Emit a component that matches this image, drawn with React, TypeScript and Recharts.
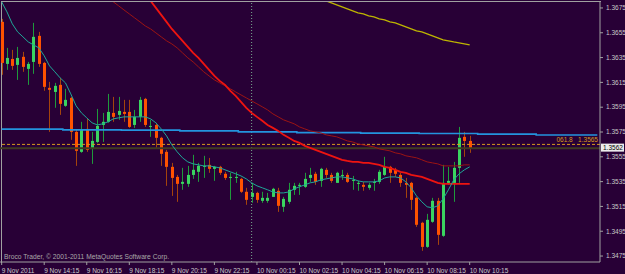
import { ComposedChart, Bar, Line, XAxis, YAxis, ReferenceLine } from "recharts";

// EURUSD M15, 9 Nov 2011 12:15 .. 10 Nov 2011 10:15
const OPEN = [
  1.36638, 1.36299, 1.36339, 1.36291, 1.36356, 1.36259, 1.36315, 1.36525, 1.36307, 1.36106,
  1.36073, 1.3613, 1.35961, 1.36025, 1.35751, 1.3559, 1.35775, 1.35614, 1.3567, 1.35807,
  1.35832, 1.35904, 1.35888, 1.35912, 1.35912, 1.35807, 1.35872, 1.36017, 1.35791, 1.35807,
  1.35703, 1.3559, 1.35469, 1.35388, 1.35332, 1.35332, 1.35404, 1.35429, 1.35469, 1.35485,
  1.35453, 1.35469, 1.35413, 1.3538, 1.3538, 1.35372, 1.35268, 1.35227, 1.35259, 1.35195,
  1.35195, 1.35227, 1.35276, 1.35147, 1.35187, 1.35284, 1.35316, 1.35308, 1.3538, 1.35413,
  1.35356, 1.35445, 1.35404, 1.3534, 1.35396, 1.35404, 1.35356, 1.35332, 1.35324, 1.353,
  1.3534, 1.35348, 1.35404, 1.35469, 1.35445, 1.35404, 1.3534, 1.3534, 1.35219, 1.35018,
  1.34824, 1.35026, 1.35195, 1.34913, 1.3534, 1.3534, 1.35461, 1.35711, 1.35678,
];
const HIGH = [
  1.36662, 1.36428, 1.36412, 1.36436, 1.36396, 1.36315, 1.3663, 1.36557, 1.36315, 1.36154,
  1.36146, 1.36186, 1.36098, 1.36033, 1.35767, 1.35832, 1.35856, 1.35751, 1.35936, 1.35904,
  1.36057, 1.36033, 1.36033, 1.36009, 1.36009, 1.35928, 1.36033, 1.36025, 1.35848, 1.35824,
  1.35711, 1.35606, 1.35501, 1.35404, 1.35461, 1.35477, 1.35566, 1.35501, 1.35558, 1.35541,
  1.35477, 1.35477, 1.35429, 1.35421, 1.35429, 1.3538, 1.353, 1.3534, 1.35268, 1.35268,
  1.35259, 1.353, 1.353, 1.35227, 1.3534, 1.3534, 1.3534, 1.35421, 1.35461, 1.35429,
  1.35461, 1.35461, 1.35421, 1.35429, 1.35445, 1.35421, 1.35396, 1.35356, 1.35348, 1.3534,
  1.35372, 1.35445, 1.3555, 1.35477, 1.35461, 1.35421, 1.3538, 1.35348, 1.35227, 1.35026,
  1.3509, 1.35219, 1.35219, 1.35485, 1.35469, 1.35509, 1.35791, 1.35751, 1.35719,
];
const LOW = [
  1.36211, 1.36251, 1.36251, 1.3617, 1.36235, 1.3613, 1.36219, 1.36275, 1.36082, 1.35751,
  1.35945, 1.35888, 1.35953, 1.35687, 1.35477, 1.35582, 1.3559, 1.35493, 1.35662, 1.3567,
  1.35824, 1.35832, 1.35848, 1.35832, 1.35783, 1.35783, 1.35832, 1.35791, 1.35711, 1.35622,
  1.35477, 1.35316, 1.35235, 1.35187, 1.35284, 1.35308, 1.35372, 1.35348, 1.3538, 1.35421,
  1.35356, 1.35404, 1.35364, 1.35203, 1.3534, 1.35259, 1.35163, 1.35179, 1.35179, 1.35179,
  1.35179, 1.35227, 1.35106, 1.35106, 1.35171, 1.35243, 1.35243, 1.353, 1.35348, 1.35324,
  1.35308, 1.3538, 1.3534, 1.3534, 1.35364, 1.3534, 1.35284, 1.35276, 1.35276, 1.35284,
  1.35276, 1.35332, 1.35396, 1.3534, 1.35388, 1.35308, 1.35219, 1.35122, 1.34985, 1.34792,
  1.34816, 1.35018, 1.3484, 1.34905, 1.35324, 1.35187, 1.3534, 1.3555, 1.35582,
];
const CLOSE = [
  1.36307, 1.36347, 1.36283, 1.36347, 1.36275, 1.36299, 1.36517, 1.36299, 1.36114, 1.3609,
  1.36122, 1.35977, 1.36009, 1.35751, 1.35598, 1.35767, 1.35606, 1.35678, 1.35799, 1.35832,
  1.35912, 1.35872, 1.3592, 1.35896, 1.35791, 1.35872, 1.36009, 1.35807, 1.35799, 1.35703,
  1.35574, 1.35469, 1.3538, 1.35332, 1.35348, 1.35404, 1.35445, 1.35477, 1.35477, 1.35453,
  1.35469, 1.35421, 1.3538, 1.35388, 1.35388, 1.35268, 1.35203, 1.35259, 1.35203, 1.35219,
  1.35219, 1.35292, 1.35155, 1.35211, 1.35284, 1.35316, 1.35324, 1.35372, 1.35404, 1.35348,
  1.35453, 1.35404, 1.35356, 1.35421, 1.35404, 1.35348, 1.35364, 1.3534, 1.35308, 1.35324,
  1.35348, 1.35429, 1.35469, 1.35421, 1.35413, 1.3534, 1.35324, 1.35203, 1.35002, 1.34824,
  1.35042, 1.35195, 1.34921, 1.3534, 1.35356, 1.35461, 1.35703, 1.35678, 1.3562,
];

// fast MA (teal), every bar
const MA_FAST = [
  1.36799, 1.36718, 1.36622, 1.36557, 1.36517, 1.36476, 1.36452, 1.36428, 1.36364, 1.36283,
  1.36235, 1.36186, 1.36146, 1.36057, 1.35961, 1.35904, 1.35864, 1.35824, 1.35807, 1.35816,
  1.35832, 1.35856, 1.35864, 1.35872, 1.35872, 1.35872, 1.35872, 1.35872, 1.35856, 1.35824,
  1.35775, 1.35719, 1.35646, 1.3559, 1.35542, 1.35509, 1.35493, 1.35485, 1.35477, 1.35477,
  1.35469, 1.35461, 1.35445, 1.35429, 1.35413, 1.35396, 1.35372, 1.3534, 1.35316, 1.353,
  1.35284, 1.35267, 1.35259, 1.35259, 1.35267, 1.35292, 1.35308, 1.35324, 1.3534, 1.35348,
  1.35364, 1.35372, 1.3538, 1.35388, 1.35388, 1.3538, 1.35372, 1.35356, 1.35348, 1.35348,
  1.35348, 1.35356, 1.3538, 1.35388, 1.35388, 1.3538, 1.35348, 1.353, 1.35235, 1.35187,
  1.35147, 1.35139, 1.35155, 1.35211, 1.35284, 1.35364, 1.35413, 1.35445, 1.35469,
];

// slow MA (bright red), from bar 26
const MA_SLOW_START = 26;
const MA_SLOW = [
  1.3692, 1.36863, 1.36807, 1.36751, 1.36694, 1.36638, 1.36581, 1.36533, 1.36485, 1.36436,
  1.36388, 1.36348, 1.36299, 1.36251, 1.36202, 1.36162, 1.3613, 1.36082, 1.36041, 1.35993,
  1.35945, 1.35904, 1.35872, 1.3584, 1.35807, 1.35783, 1.35759, 1.35727, 1.35703, 1.35678,
  1.35662, 1.35638, 1.35622, 1.35606, 1.3559, 1.35574, 1.35558, 1.35542, 1.35526, 1.35517,
  1.35509, 1.35509, 1.35501, 1.35501, 1.35493, 1.35485, 1.35469, 1.35461, 1.35445, 1.35429,
  1.35421, 1.35404, 1.35396, 1.35388, 1.35372, 1.35356, 1.3534, 1.35332, 1.35332, 1.35332,
  1.35332, 1.35332, 1.35332,
];

// mid MA (dark red), from bar 20
const MA_MID_START = 20;
const MA_MID = [
  1.36831, 1.36799, 1.36767, 1.36734, 1.36702, 1.3667, 1.36638, 1.36605, 1.36581, 1.36549,
  1.36517, 1.36485, 1.3646, 1.36428, 1.36388, 1.36348, 1.36315, 1.36275, 1.36235, 1.36202,
  1.3617, 1.36146, 1.36122, 1.36098, 1.36073, 1.36049, 1.36025, 1.36001, 1.35977, 1.35953,
  1.35928, 1.35896, 1.35872, 1.35848, 1.35832, 1.35816, 1.35791, 1.35775, 1.35759, 1.35751,
  1.35743, 1.35727, 1.35719, 1.35711, 1.35695, 1.35678, 1.3567, 1.35654, 1.35646, 1.35638,
  1.3563, 1.35614, 1.35606, 1.35598, 1.35582, 1.35574, 1.35558, 1.3555, 1.35542, 1.35526,
  1.35509, 1.35501, 1.35493, 1.35477, 1.35477, 1.35477, 1.35477, 1.35485, 1.35485,
];

// long MA (yellow), from bar 60
const MA_LONG_START = 60;
const MA_LONG = [
  1.36823, 1.36807, 1.36791, 1.36775, 1.36759, 1.36742, 1.36726, 1.3671, 1.36702, 1.36686,
  1.36678, 1.36662, 1.36654, 1.36638, 1.3663, 1.36614, 1.36597, 1.36581, 1.36565, 1.36557,
  1.36541, 1.36525, 1.36509, 1.36493, 1.36485, 1.36476, 1.36468, 1.3646, 1.36452,
];

// higher-timeframe MA (blue steps), level and first bar of each step
const HTF_LEVELS = [1.35773, 1.35767, 1.35765, 1.35759, 1.35751, 1.35745, 1.35741, 1.35738, 1.35733, 1.35726];
const HTF_FROM = [0, 12, 23, 34, 45, 56, 68, 79, 90, 101];

const TICK_IDX = [0, 8, 16, 24, 32, 40, 48, 56, 64, 72, 80, 88];
const TICK_LABELS = [
  "9 Nov 2011", "9 Nov 14:15", "9 Nov 16:15", "9 Nov 18:15", "9 Nov 20:15", "9 Nov 22:15",
  "10 Nov 00:15", "10 Nov 02:15", "10 Nov 04:15", "10 Nov 06:15", "10 Nov 08:15", "10 Nov 10:15",
];
const PRICE_TICKS = [1.3475, 1.3495, 1.3515, 1.3535, 1.3555, 1.3575, 1.3595, 1.3615, 1.3635, 1.3655, 1.3675];

const FIBO = 1.3565;
const BID = 1.3562;
const DAY_SEPARATOR = 47;
const SLOTS = 113;

const BG = "#280036";
const FONT = "'Liberation Sans', Arial, sans-serif";

const htfAt = (i: number) => {
  let v = HTF_LEVELS[0];
  HTF_FROM.forEach((f, k) => {
    if (i >= f) v = HTF_LEVELS[k];
  });
  return v;
};

const pick = (arr: number[], start: number, i: number) =>
  i >= start && i - start < arr.length ? arr[i - start] : null;

const data = Array.from({ length: SLOTS }, (_, i) => ({
  i,
  o: OPEN[i] ?? null,
  h: HIGH[i] ?? null,
  l: LOW[i] ?? null,
  c: CLOSE[i] ?? null,
  fast: pick(MA_FAST, 0, i),
  mid: pick(MA_MID, MA_MID_START, i),
  slow: pick(MA_SLOW, MA_SLOW_START, i),
  long: pick(MA_LONG, MA_LONG_START, i),
  htf: htfAt(i),
}));

const Candle = (props: any) => {
  const { x, y, width, height, payload } = props;
  if (!payload || payload.h == null) return null;
  const k = height / (payload.h - payload.l || 1e-9);
  const cx = Math.round(x + width / 2) + 0.5;
  const yO = y + (payload.h - payload.o) * k;
  const yC = y + (payload.h - payload.c) * k;
  const up = payload.c >= payload.o;
  const top = Math.min(yO, yC);
  const bh = Math.max(Math.abs(yC - yO), 1);
  return (
    <g>
      <line x1={cx} x2={cx} y1={y} y2={y + height} stroke={up ? "#1f9a3c" : "#a4440c"} strokeWidth={1} />
      <rect x={cx - 1.5} y={top} width={3} height={bh} fill={up ? "#3ad460" : "#ff5200"} />
    </g>
  );
};

const TimeTick = (props: any) => {
  const { x, y, payload } = props;
  const k = TICK_IDX.indexOf(payload.value);
  return (
    <text x={x} y={y + 6} fontSize={6.5} fontFamily={FONT} fill="#c8c8c8" textAnchor="start">
      {TICK_LABELS[k]}
    </text>
  );
};

const PriceTick = (props: any) => {
  const { x, y, payload } = props;
  return (
    <text x={x + 1} y={y + 2.3} fontSize={6.5} fontFamily={FONT} fill="#c8c8c8" textAnchor="start">
      {payload.value.toFixed(4)}
    </text>
  );
};

const FiboLabel = (props: any) => {
  const { x, y, width } = props.viewBox;
  return (
    <text x={x + width - 2} y={y - 2} fontSize={6.5} fontFamily={FONT} fill="#d89a1c" textAnchor="end">
      {"061.8\u00a0\u00a0\u00a01.3565"}
    </text>
  );
};

const BidLabel = (props: any) => {
  const { x, y, width } = props.viewBox;
  const bx = x + width + 1;
  return (
    <g>
      <rect x={bx} y={y - 4.5} width={23} height={8} fill="#ececec" />
      <text x={bx + 2} y={y + 2} fontSize={6.5} fontFamily={FONT} fill="#000000">
        1.3562
      </text>
    </g>
  );
};

export default function App() {
  return (
    <div style={{ position: "fixed", left: 0, top: 0, width: 625, height: 274, background: BG, overflow: "hidden" }}>
      <div
        style={{
          position: "absolute",
          left: 1,
          top: 1,
          width: 599,
          height: 261,
          borderTop: "1px solid #a0a0a0",
          borderLeft: "1px solid #a0a0a0",
        }}
      />
      <div style={{ position: "absolute", left: -1, top: 0 }}>
        <ComposedChart width={626} height={274} data={data} margin={{ top: 2, right: 0, bottom: 0, left: 0 }}>
          <XAxis
            dataKey="i"
            type="category"
            ticks={TICK_IDX}
            interval={0}
            height={12}
            tick={<TimeTick />}
            tickSize={3}
            tickLine={{ stroke: "#a0a0a0" }}
            axisLine={{ stroke: "#a0a0a0" }}
          />
          <YAxis
            orientation="right"
            width={25}
            domain={[1.34702, 1.36798]}
            allowDataOverflow
            ticks={PRICE_TICKS}
            interval={0}
            tick={<PriceTick />}
            tickSize={3}
            tickLine={{ stroke: "#a0a0a0" }}
            axisLine={{ stroke: "#a0a0a0" }}
          />
          <Bar dataKey={(d: any) => (d.h == null ? null : [d.l, d.h])} shape={<Candle />} isAnimationActive={false} />
          <ReferenceLine x={DAY_SEPARATOR} stroke="#7aa890" strokeDasharray="1 2" />
          <ReferenceLine y={BID} stroke="#3e3a22" strokeWidth={2} label={<BidLabel />} />
          <ReferenceLine y={FIBO} stroke="#d89a1c" strokeDasharray="3 2" label={<FiboLabel />} />
          <Line dataKey="htf" type="step" stroke="#2394de" strokeWidth={1.6} dot={false} isAnimationActive={false} />
          <Line dataKey="long" stroke="#bdb400" strokeWidth={1.3} dot={false} isAnimationActive={false} />
          <Line dataKey="mid" stroke="#9c1414" strokeWidth={1} dot={false} isAnimationActive={false} />
          <Line dataKey="slow" stroke="#ee1410" strokeWidth={1.8} dot={false} isAnimationActive={false} />
          <Line dataKey="fast" stroke="#1fa898" strokeWidth={1} dot={false} isAnimationActive={false} />
        </ComposedChart>
      </div>
      <div
        style={{
          position: "absolute",
          left: 4,
          top: 253,
          fontSize: 6.7,
          fontFamily: FONT,
          color: "#a8a8a8",
          whiteSpace: "nowrap",
        }}
      >
        Broco Trader, © 2001-2011 MetaQuotes Software Corp.
      </div>
    </div>
  );
}
